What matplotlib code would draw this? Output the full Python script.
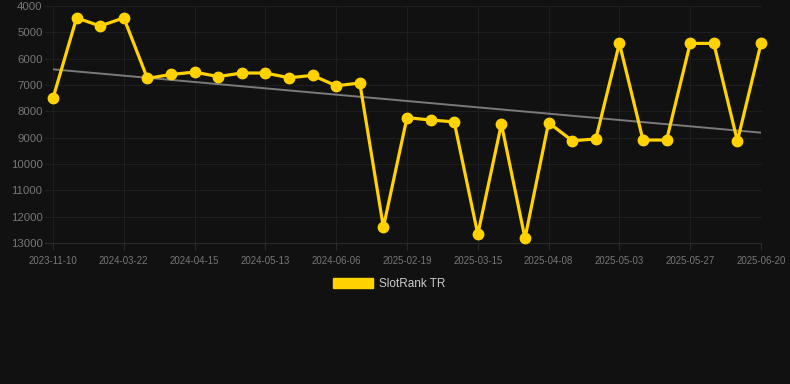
import numpy as np
import matplotlib
matplotlib.use("Agg")
import matplotlib.pyplot as plt
from matplotlib.patches import Patch
import matplotlib.transforms as mtransforms

dates = ["2023-11-10", "", "", "2024-03-22", "", "", "2024-04-15", "", "", "2024-05-13",
         "", "", "2024-06-06", "", "", "2025-02-19", "", "", "2025-03-15", "", "",
         "2025-04-08", "", "", "2025-05-03", "", "", "2025-05-27", "", "", "2025-06-20"]
rank = [7500, 4450, 4760, 4450, 6750, 6600, 6510, 6680, 6545, 6545, 6725, 6635, 7030, 6925,
        12400, 8240, 8330, 8400, 12670, 8480, 12820, 8430, 9115, 9050, 5420, 9090, 9090,
        5420, 5420, 9130, 5420]
trend_ends = [6405, 8810]
y_ticks = [4000, 5000, 6000, 7000, 8000, 9000, 10000, 11000, 12000, 13000]
series_name = "SlotRank TR"

BG = "#111111"
GOLD = "#FFD200"
GRID = "#1e1e1e"
plt.rcParams['font.family'] = ['Liberation Sans', 'DejaVu Sans']

fig = plt.figure(figsize=(7.9, 3.84), dpi=100, facecolor=BG)
ax_w = (761-53)/790
ax = fig.add_axes([53/790, 1-243/384, ax_w, (243-6)/384], facecolor=BG)

x = np.arange(len(rank))
ax.plot([x[0], x[-1]], trend_ends, color="#7a7a7a", lw=1.4, zorder=2)
ax.plot(x, rank, color=GOLD, lw=2.3, marker="o", ms=7.5, zorder=3, clip_on=False)

ax.set_xlim(0, len(rank)-1)
ax.set_ylim(13000, 4000)
ax.set_yticks(y_ticks)
ax.set_yticklabels([str(v) for v in y_ticks])
lab_idx = [i for i, d in enumerate(dates) if d]
ax.set_xticks(lab_idx)
ax.set_xticklabels([dates[i] for i in lab_idx])
ax.grid(True, axis="x", color=GRID, lw=0.8, zorder=0)
trans = mtransforms.blended_transform_factory(ax.transAxes, ax.transData)
for v in y_ticks:
    col = "#2a2a2a" if v == y_ticks[-1] else GRID
    ax.plot([-8/708, 1], [v, v], transform=trans, color=col, lw=0.8, zorder=0, clip_on=False)
for s in ax.spines.values():
    s.set_visible(False)
ax.tick_params(axis="y", labelcolor="#777777", labelsize=8.2, length=0, pad=7.5)
ax.tick_params(axis="x", colors="#2a2a2a", labelcolor="#777777", labelsize=6.9, length=5, pad=4)

fig.legend(handles=[Patch(facecolor=GOLD, edgecolor=GOLD)], labels=[series_name],
           loc="center", bbox_to_anchor=(389/790, 1-284/384), frameon=False,
           fontsize=8.5, labelcolor="#cccccc", handlelength=3.4, handleheight=0.95,
           handletextpad=0.5)

fig.savefig("out.png", dpi=100, facecolor=BG)
